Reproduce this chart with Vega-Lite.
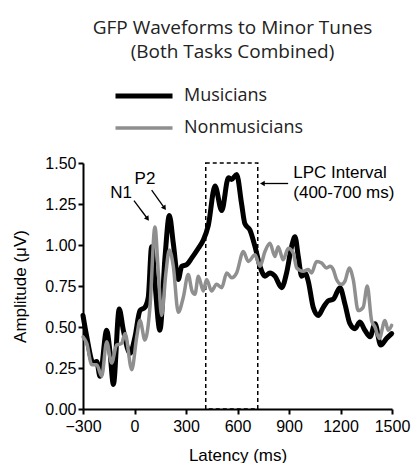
{
  "$schema": "https://vega.github.io/schema/vega-lite/v6.json",
  "width": 309,
  "height": 246,
  "autosize": {"type": "none"},
  "padding": {"left": 83, "top": 163, "right": 20, "bottom": 54},
  "background": "white",
  "config": {"view": {"stroke": null}},
  "title": {
    "text": ["GFP Waveforms to Minor Tunes", "(Both Tasks Combined)"],
    "font": "Open Sans",
    "fontSize": 19,
    "fontWeight": "normal",
    "color": "#222222",
    "lineHeight": 24,
    "anchor": "middle",
    "frame": "group",
    "offset": 24,
    "dx": -5
  },
  "datasets": {
    "waves": [
      {"series": "Musicians", "t": -300, "v": 0.57}, {"series": "Musicians", "t": -278, "v": 0.44}, {"series": "Musicians", "t": -240, "v": 0.28}, {"series": "Musicians", "t": -220, "v": 0.29}, {"series": "Musicians", "t": -201, "v": 0.20}, {"series": "Musicians", "t": -162, "v": 0.48}, {"series": "Musicians", "t": -143, "v": 0.35}, {"series": "Musicians", "t": -123, "v": 0.15}, {"series": "Musicians", "t": -89, "v": 0.61}, {"series": "Musicians", "t": -65, "v": 0.48}, {"series": "Musicians", "t": -26, "v": 0.34}, {"series": "Musicians", "t": 3, "v": 0.44}, {"series": "Musicians", "t": 32, "v": 0.60}, {"series": "Musicians", "t": 61, "v": 0.62}, {"series": "Musicians", "t": 80, "v": 0.68}, {"series": "Musicians", "t": 100, "v": 0.99}, {"series": "Musicians", "t": 119, "v": 0.77}, {"series": "Musicians", "t": 148, "v": 0.48}, {"series": "Musicians", "t": 178, "v": 0.93}, {"series": "Musicians", "t": 203, "v": 1.18}, {"series": "Musicians", "t": 226, "v": 1.01}, {"series": "Musicians", "t": 255, "v": 0.79}, {"series": "Musicians", "t": 275, "v": 0.87}, {"series": "Musicians", "t": 304, "v": 0.88}, {"series": "Musicians", "t": 333, "v": 0.92}, {"series": "Musicians", "t": 372, "v": 0.98}, {"series": "Musicians", "t": 401, "v": 1.03}, {"series": "Musicians", "t": 430, "v": 1.12}, {"series": "Musicians", "t": 469, "v": 1.36}, {"series": "Musicians", "t": 508, "v": 1.21}, {"series": "Musicians", "t": 547, "v": 1.41}, {"series": "Musicians", "t": 566, "v": 1.40}, {"series": "Musicians", "t": 595, "v": 1.43}, {"series": "Musicians", "t": 624, "v": 1.25}, {"series": "Musicians", "t": 643, "v": 1.13}, {"series": "Musicians", "t": 673, "v": 1.09}, {"series": "Musicians", "t": 702, "v": 0.99}, {"series": "Musicians", "t": 731, "v": 0.87}, {"series": "Musicians", "t": 760, "v": 0.81}, {"series": "Musicians", "t": 789, "v": 0.83}, {"series": "Musicians", "t": 818, "v": 0.81}, {"series": "Musicians", "t": 857, "v": 0.74}, {"series": "Musicians", "t": 886, "v": 0.83}, {"series": "Musicians", "t": 915, "v": 0.99}, {"series": "Musicians", "t": 935, "v": 1.05}, {"series": "Musicians", "t": 954, "v": 0.93}, {"series": "Musicians", "t": 974, "v": 0.81}, {"series": "Musicians", "t": 993, "v": 0.83}, {"series": "Musicians", "t": 1012, "v": 0.78}, {"series": "Musicians", "t": 1041, "v": 0.62}, {"series": "Musicians", "t": 1070, "v": 0.57}, {"series": "Musicians", "t": 1100, "v": 0.62}, {"series": "Musicians", "t": 1129, "v": 0.66}, {"series": "Musicians", "t": 1158, "v": 0.67}, {"series": "Musicians", "t": 1197, "v": 0.74}, {"series": "Musicians", "t": 1226, "v": 0.64}, {"series": "Musicians", "t": 1255, "v": 0.52}, {"series": "Musicians", "t": 1284, "v": 0.49}, {"series": "Musicians", "t": 1313, "v": 0.53}, {"series": "Musicians", "t": 1342, "v": 0.48}, {"series": "Musicians", "t": 1372, "v": 0.44}, {"series": "Musicians", "t": 1401, "v": 0.52}, {"series": "Musicians", "t": 1434, "v": 0.39}, {"series": "Musicians", "t": 1468, "v": 0.43}, {"series": "Musicians", "t": 1498, "v": 0.46},
      {"series": "Nonmusicians", "t": -300, "v": 0.44}, {"series": "Nonmusicians", "t": -278, "v": 0.40}, {"series": "Nonmusicians", "t": -249, "v": 0.27}, {"series": "Nonmusicians", "t": -220, "v": 0.27}, {"series": "Nonmusicians", "t": -191, "v": 0.20}, {"series": "Nonmusicians", "t": -162, "v": 0.41}, {"series": "Nonmusicians", "t": -133, "v": 0.28}, {"series": "Nonmusicians", "t": -104, "v": 0.39}, {"series": "Nonmusicians", "t": -75, "v": 0.40}, {"series": "Nonmusicians", "t": -55, "v": 0.46}, {"series": "Nonmusicians", "t": -16, "v": 0.24}, {"series": "Nonmusicians", "t": 13, "v": 0.44}, {"series": "Nonmusicians", "t": 32, "v": 0.54}, {"series": "Nonmusicians", "t": 61, "v": 0.42}, {"series": "Nonmusicians", "t": 90, "v": 0.62}, {"series": "Nonmusicians", "t": 119, "v": 1.11}, {"series": "Nonmusicians", "t": 139, "v": 0.83}, {"series": "Nonmusicians", "t": 158, "v": 0.57}, {"series": "Nonmusicians", "t": 183, "v": 0.83}, {"series": "Nonmusicians", "t": 203, "v": 0.97}, {"series": "Nonmusicians", "t": 226, "v": 0.87}, {"series": "Nonmusicians", "t": 255, "v": 0.59}, {"series": "Nonmusicians", "t": 284, "v": 0.68}, {"series": "Nonmusicians", "t": 313, "v": 0.82}, {"series": "Nonmusicians", "t": 335, "v": 0.72}, {"series": "Nonmusicians", "t": 352, "v": 0.70}, {"series": "Nonmusicians", "t": 372, "v": 0.81}, {"series": "Nonmusicians", "t": 401, "v": 0.72}, {"series": "Nonmusicians", "t": 420, "v": 0.79}, {"series": "Nonmusicians", "t": 449, "v": 0.72}, {"series": "Nonmusicians", "t": 478, "v": 0.76}, {"series": "Nonmusicians", "t": 508, "v": 0.74}, {"series": "Nonmusicians", "t": 537, "v": 0.83}, {"series": "Nonmusicians", "t": 566, "v": 0.80}, {"series": "Nonmusicians", "t": 595, "v": 0.83}, {"series": "Nonmusicians", "t": 634, "v": 0.96}, {"series": "Nonmusicians", "t": 663, "v": 0.90}, {"series": "Nonmusicians", "t": 702, "v": 0.94}, {"series": "Nonmusicians", "t": 731, "v": 0.87}, {"series": "Nonmusicians", "t": 760, "v": 0.96}, {"series": "Nonmusicians", "t": 789, "v": 1.01}, {"series": "Nonmusicians", "t": 818, "v": 0.93}, {"series": "Nonmusicians", "t": 837, "v": 0.99}, {"series": "Nonmusicians", "t": 866, "v": 0.91}, {"series": "Nonmusicians", "t": 896, "v": 0.98}, {"series": "Nonmusicians", "t": 925, "v": 0.95}, {"series": "Nonmusicians", "t": 945, "v": 0.86}, {"series": "Nonmusicians", "t": 983, "v": 0.84}, {"series": "Nonmusicians", "t": 1012, "v": 0.85}, {"series": "Nonmusicians", "t": 1031, "v": 0.83}, {"series": "Nonmusicians", "t": 1061, "v": 0.90}, {"series": "Nonmusicians", "t": 1090, "v": 0.89}, {"series": "Nonmusicians", "t": 1119, "v": 0.86}, {"series": "Nonmusicians", "t": 1139, "v": 0.87}, {"series": "Nonmusicians", "t": 1158, "v": 0.85}, {"series": "Nonmusicians", "t": 1177, "v": 0.79}, {"series": "Nonmusicians", "t": 1206, "v": 0.76}, {"series": "Nonmusicians", "t": 1226, "v": 0.78}, {"series": "Nonmusicians", "t": 1251, "v": 0.86}, {"series": "Nonmusicians", "t": 1274, "v": 0.79}, {"series": "Nonmusicians", "t": 1303, "v": 0.60}, {"series": "Nonmusicians", "t": 1332, "v": 0.62}, {"series": "Nonmusicians", "t": 1356, "v": 0.75}, {"series": "Nonmusicians", "t": 1381, "v": 0.54}, {"series": "Nonmusicians", "t": 1401, "v": 0.50}, {"series": "Nonmusicians", "t": 1426, "v": 0.43}, {"series": "Nonmusicians", "t": 1459, "v": 0.54}, {"series": "Nonmusicians", "t": 1478, "v": 0.48}, {"series": "Nonmusicians", "t": 1498, "v": 0.51}
    ],
    "box": [{"t1": 415, "t2": 718, "v1": 0, "v2": 1.5}],
    "arrows": [
      {"name": "N1", "t1": -3, "v1": 1.27, "t2": 76, "v2": 1.16, "angle": 145},
      {"name": "P2", "t1": 100, "v1": 1.335, "t2": 175, "v2": 1.225, "angle": 146},
      {"name": "LPC", "t1": 895, "v1": 1.375, "t2": 745, "v2": 1.375, "angle": 270}
    ],
    "peaklabels": [
      {"text": "N1", "t": -78, "v": 1.32},
      {"text": "P2", "t": 61, "v": 1.40}
    ],
    "lpclabels": [
      {"text": "LPC Interval", "t": 925, "v": 1.437},
      {"text": "(400-700 ms)", "t": 925, "v": 1.32}
    ]
  },
  "layer": [
    {
      "data": {"name": "box"},
      "mark": {"type": "rect", "fill": null, "fillOpacity": 0, "stroke": "black", "strokeWidth": 1.5, "strokeDash": [4, 3]},
      "encoding": {
        "x": {"field": "t1", "type": "quantitative"},
        "x2": {"field": "t2"},
        "y": {"field": "v1", "type": "quantitative"},
        "y2": {"field": "v2"}
      }
    },
    {
      "data": {"name": "waves"},
      "mark": {"type": "line", "interpolate": "monotone", "strokeJoin": "round", "strokeCap": "round"},
      "encoding": {
        "x": {
          "field": "t", "type": "quantitative",
          "scale": {"domain": [-300, 1500], "nice": false, "zero": false},
          "axis": {
            "title": "Latency (ms)",
            "values": [-300, -150, 0, 150, 300, 450, 600, 750, 900, 1050, 1200, 1350, 1500],
            "format": "d",
            "labelExpr": "datum.value % 300 === 0 ? datum.label : ''",
            "tickSize": {"condition": {"test": "datum.value % 300 !== 0", "value": 3}, "value": 5},
            "grid": false,
            "domainColor": "black", "domainWidth": 2,
            "tickColor": "black", "tickWidth": 2,
            "labelFont": "Liberation Sans", "labelFontSize": 16, "labelColor": "black",
            "labelPadding": 4, "labelFlush": false, "labelOverlap": false,
            "titleFont": "Liberation Sans", "titleFontSize": 17, "titleFontWeight": "normal", "titleColor": "black",
            "titlePadding": 13
          }
        },
        "y": {
          "field": "v", "type": "quantitative",
          "scale": {"domain": [0, 1.5], "nice": false},
          "axis": {
            "title": "Amplitude (μV)",
            "values": [0, 0.125, 0.25, 0.375, 0.5, 0.625, 0.75, 0.875, 1, 1.125, 1.25, 1.375, 1.5],
            "format": ".2f",
            "labelExpr": "round(datum.value * 8) % 2 === 0 ? datum.label : ''",
            "tickSize": {"condition": {"test": "round(datum.value * 8) % 2 !== 0", "value": 3}, "value": 5},
            "grid": false,
            "domainColor": "black", "domainWidth": 2,
            "tickColor": "black", "tickWidth": 2,
            "labelFont": "Liberation Sans", "labelFontSize": 16, "labelColor": "black",
            "labelPadding": 2, "labelOverlap": false,
            "titleFont": "Liberation Sans", "titleFontSize": 17, "titleFontWeight": "normal", "titleColor": "black",
            "titlePadding": 15
          }
        },
        "color": {
          "field": "series", "type": "nominal",
          "scale": {"domain": ["Musicians", "Nonmusicians"], "range": ["#000000", "#8f8f8f"]},
          "legend": {
            "orient": "none", "legendX": 30, "legendY": -77, "title": null,
            "symbolType": "stroke", "symbolSize": 3249, "clipHeight": 20,
            "labelFont": "Open Sans", "labelFontSize": 18, "labelColor": "#222222",
            "labelOffset": 9, "rowPadding": 12
          }
        },
        "strokeWidth": {
          "field": "series", "type": "nominal",
          "scale": {"domain": ["Musicians", "Nonmusicians"], "range": [5, 3.5]},
          "legend": {
            "orient": "none", "legendX": 30, "legendY": -77, "title": null,
            "symbolType": "stroke", "symbolSize": 3249, "clipHeight": 20,
            "labelFont": "Open Sans", "labelFontSize": 18, "labelColor": "#222222",
            "labelOffset": 9, "rowPadding": 12
          }
        }
      }
    },
    {
      "data": {"name": "arrows"},
      "mark": {"type": "rule", "stroke": "black", "strokeWidth": 1.3},
      "encoding": {
        "x": {"field": "t1", "type": "quantitative"},
        "y": {"field": "v1", "type": "quantitative"},
        "x2": {"field": "t2"},
        "y2": {"field": "v2"}
      }
    },
    {
      "data": {"name": "arrows"},
      "mark": {"type": "point", "shape": "triangle-up", "filled": true, "color": "black", "size": 30, "opacity": 1},
      "encoding": {
        "x": {"field": "t2", "type": "quantitative"},
        "y": {"field": "v2", "type": "quantitative"},
        "angle": {"field": "angle", "type": "quantitative", "scale": null}
      }
    },
    {
      "data": {"name": "peaklabels"},
      "mark": {"type": "text", "font": "Liberation Sans", "fontSize": 17, "color": "black", "baseline": "middle", "align": "center"},
      "encoding": {
        "x": {"field": "t", "type": "quantitative"},
        "y": {"field": "v", "type": "quantitative"},
        "text": {"field": "text"}
      }
    },
    {
      "data": {"name": "lpclabels"},
      "mark": {"type": "text", "font": "Liberation Sans", "fontSize": 17, "color": "black", "baseline": "middle", "align": "left"},
      "encoding": {
        "x": {"field": "t", "type": "quantitative"},
        "y": {"field": "v", "type": "quantitative"},
        "text": {"field": "text"}
      }
    }
  ]
}
